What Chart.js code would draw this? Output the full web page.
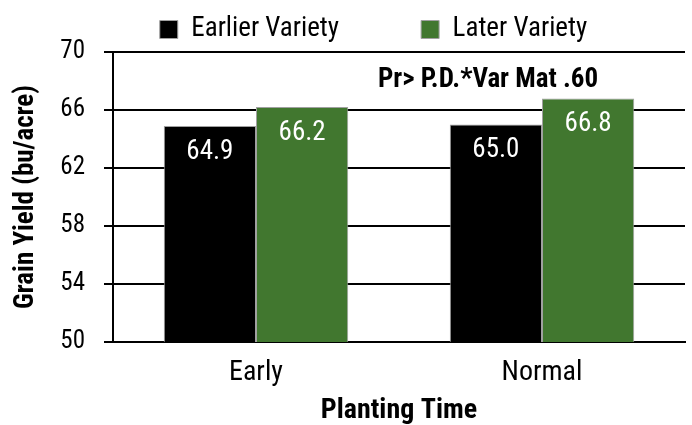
<!DOCTYPE html>
<html>
<head>
<meta charset="utf-8">
<script src="https://cdn.jsdelivr.net/npm/chart.js@4"></script>
<style>
  html, body { margin: 0; padding: 0; background: #fff; }
</style>
</head>
<body>
<canvas id="chart" width="692" height="425"></canvas>
<script>
const categories = ['Early', 'Normal'];
const earlierVariety = [64.9, 65.0];
const laterVariety = [66.2, 66.8];
const yTicks = [50, 54, 58, 62, 66, 70];
const note = 'Pr> P.D.*Var Mat .60';

const FONT = '"Roboto Condensed", "Liberation Sans Narrow", "Arial Narrow", sans-serif';

// keep the legend's layout height small, then move its box up/right after layout
const legendNudge = {
  id: 'legendNudge',
  afterInit(chart) {
    const lg = chart.legend;
    const fit = lg.fit;
    lg.fit = function() { fit.call(this); this.height = 52; };
  },
  afterLayout(chart) {
    const lg = chart.legend;
    lg.top -= 66; lg.bottom = lg.top + 200; lg.height = 200;
    lg.left += 29; lg.right += 29;
  }
};

const valueLabels = {
  id: 'valueLabels',
  afterDatasetsDraw(chart) {
    const ctx = chart.ctx;
    ctx.save();
    ctx.fillStyle = '#fff';
    ctx.font = '27px ' + FONT;
    ctx.textAlign = 'center';
    ctx.textBaseline = 'middle';
    chart.data.datasets.forEach((ds, i) => {
      chart.getDatasetMeta(i).data.forEach((bar, j) => {
        ctx.fillText(ds.data[j].toFixed(1), bar.x, bar.y + 26);
      });
    });
    // significance note
    ctx.fillStyle = '#000';
    ctx.font = 'bold 27px ' + FONT;
    ctx.textAlign = 'left';
    ctx.textBaseline = 'alphabetic';
    ctx.fillText(note, 378, 87);
    ctx.restore();
  }
};

new Chart(document.getElementById('chart'), {
  type: 'bar',
  data: {
    labels: categories,
    datasets: [
      { label: 'Earlier Variety', data: earlierVariety, backgroundColor: '#000000', borderColor: '#a0a0a0', borderWidth: 1 },
      { label: 'Later Variety', data: laterVariety, backgroundColor: '#41772f', borderColor: '#a0a0a0', borderWidth: 1 }
    ]
  },
  options: {
    responsive: false,
    animation: false,
    devicePixelRatio: 1,
    layout: { padding: { left: 4, right: 7, top: 0, bottom: 0 } },
    datasets: { bar: { barPercentage: 1, categoryPercentage: 0.645 } },
    plugins: {
      tooltip: { enabled: false },
      legend: {
        position: 'top',
        labels: {
          color: '#000',
          font: { family: FONT, size: 27 },
          boxWidth: 18, boxHeight: 18,
          padding: 82,
          useBorderRadius: false
        }
      }
    },
    scales: {
      x: {
        afterFit(scale) { scale.height = 83; },
        grid: { display: false, drawTicks: false },
        border: { display: true, color: '#000', width: 2 },
        ticks: { color: '#000', font: { family: FONT, size: 28, lineHeight: 1 }, padding: 17 },
        title: {
          display: true, text: 'Planting Time', color: '#000',
          font: { family: FONT, size: 28, weight: 'bold', lineHeight: 1 },
          padding: { top: 0, bottom: 0 }
        }
      },
      y: {
        min: 50, max: 70,
        afterBuildTicks(scale) { scale.ticks = yTicks.map(v => ({ value: v })); },
        afterFit(scale) { scale.width = 109; },
        grid: { color: '#000', lineWidth: 2, tickLength: 9, drawTicks: true },
        border: { display: true, color: '#000', width: 2 },
        ticks: { color: '#000', font: { family: FONT, size: 25 }, padding: 19 },
        title: {
          display: true, text: 'Grain Yield (bu/acre)', color: '#000',
          font: { family: FONT, size: 27, weight: 'bold', lineHeight: 1 },
          padding: { top: 9, bottom: 0 }
        }
      }
    }
  },
  plugins: [legendNudge, valueLabels]
});
</script>
</body>
</html>
